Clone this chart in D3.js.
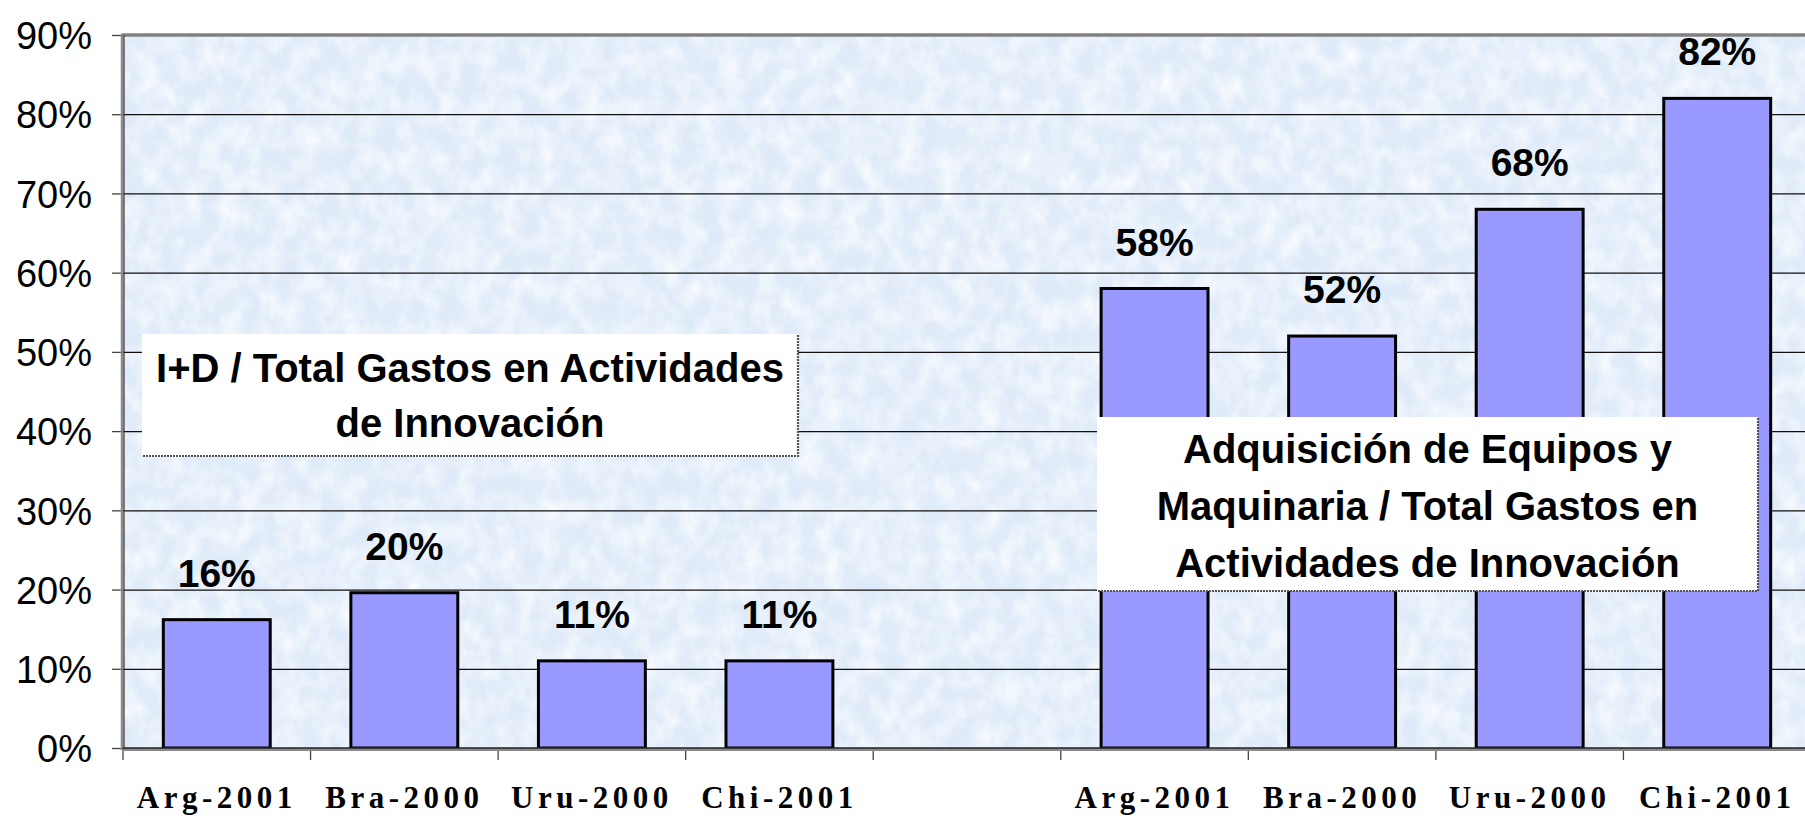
<!DOCTYPE html>
<html>
<head>
<meta charset="utf-8">
<script src="https://cdn.jsdelivr.net/npm/d3@7"></script>
<style>
  html, body { margin: 0; padding: 0; background: #ffffff; }
  svg { display: block; }
</style>
</head>
<body>
<svg id="chart" width="1805" height="816"></svg>
<script>
// ---- data ----
const categories = ["Arg-2001", "Bra-2000", "Uru-2000", "Chi-2001"];
const valuesID = [0.162, 0.196, 0.11, 0.11];          // I+D / Total
const valuesEquip = [0.58, 0.52, 0.68, 0.82];         // Equipos y Maquinaria / Total
const yTickValues = [0, 0.1, 0.2, 0.3, 0.4, 0.5, 0.6, 0.7, 0.8, 0.9];
const boxTextID = ["I+D / Total Gastos en Actividades", "de Innovación"];
const boxTextEquip = ["Adquisición de Equipos y", "Maquinaria / Total Gastos en", "Actividades de Innovación"];

// ---- layout ----
const W = 1805, H = 816;
const plotLeft = 123, plotRight = 1811, plotTop = 35, plotBottom = 748;

const svg = d3.select("#chart");

const slots = [
  ...categories.map(c => "A|" + c),
  "gap",
  ...categories.map(c => "B|" + c)
];
const bars = [
  ...categories.map((c, i) => ({ key: "A|" + c, value: valuesID[i] })),
  ...categories.map((c, i) => ({ key: "B|" + c, value: valuesEquip[i] }))
];

const pad = 0.43;
const x = d3.scaleBand().domain(slots).range([plotLeft, plotRight])
  .paddingInner(pad).paddingOuter(pad / 2);
const y = d3.scaleLinear().domain([0, 0.9]).range([plotBottom, plotTop]);
const step = x.step();

// ---- background texture ----
const defs = svg.append("defs");
const filt = defs.append("filter").attr("id", "tex")
  .attr("x", 0).attr("y", 0).attr("width", "100%").attr("height", "100%");
filt.append("feTurbulence").attr("type", "fractalNoise")
  .attr("baseFrequency", "0.05 0.04").attr("numOctaves", 3).attr("seed", 7);
filt.append("feColorMatrix").attr("type", "matrix")
  .attr("values", "0 0 0 0 1  0 0 0 0 1  0 0 0 0 1  1.5 0 0 0 -0.5");
const filt2 = defs.append("filter").attr("id", "tex2")
  .attr("x", 0).attr("y", 0).attr("width", "100%").attr("height", "100%");
filt2.append("feTurbulence").attr("type", "fractalNoise")
  .attr("baseFrequency", "0.1 0.07").attr("numOctaves", 2).attr("seed", 3);
filt2.append("feColorMatrix").attr("type", "matrix")
  .attr("values", "0 0 0 0 0.74  0 0 0 0 0.81  0 0 0 0 0.93  1.2 0 0 0 -0.6");

svg.append("rect").attr("x", plotLeft).attr("y", plotTop)
  .attr("width", W - plotLeft).attr("height", plotBottom - plotTop)
  .attr("fill", "#dfebf9");
svg.append("rect").attr("x", plotLeft).attr("y", plotTop)
  .attr("width", W - plotLeft).attr("height", plotBottom - plotTop)
  .attr("filter", "url(#tex)");
svg.append("rect").attr("x", plotLeft).attr("y", plotTop)
  .attr("width", W - plotLeft).attr("height", plotBottom - plotTop)
  .attr("filter", "url(#tex2)");

// ---- gridlines ----
const grid = svg.append("g").attr("transform", `translate(${plotLeft},0)`)
  .call(d3.axisLeft(y).tickValues(yTickValues.filter(v => v > 0 && v < 0.9))
    .tickSize(-(plotRight - plotLeft)).tickFormat(""));
grid.select(".domain").remove();
grid.selectAll("line").attr("stroke", "#111").attr("stroke-width", 1.3);

// top border
svg.append("line").attr("x1", plotLeft).attr("x2", W)
  .attr("y1", y(0.9)).attr("y2", y(0.9))
  .attr("stroke", "#808080").attr("stroke-width", 3.5);

// ---- bars ----
svg.append("g").selectAll("rect").data(bars).join("rect")
  .attr("x", d => x(d.key))
  .attr("y", d => y(d.value))
  .attr("width", x.bandwidth())
  .attr("height", d => y(0) - y(d.value))
  .attr("fill", "#9999ff")
  .attr("stroke", "#000")
  .attr("stroke-width", 3);

// value labels
svg.append("g").selectAll("text").data(bars).join("text")
  .attr("x", d => x(d.key) + x.bandwidth() / 2)
  .attr("y", d => y(d.value) - 33)
  .attr("text-anchor", "middle")
  .attr("font-family", "Liberation Sans, Arial, sans-serif")
  .attr("font-weight", "bold")
  .attr("font-size", 39)
  .attr("fill", "#000")
  .text(d => d3.format(".0%")(d.value));

// ---- y axis ----
const yAxis = svg.append("g").attr("transform", `translate(${plotLeft},0)`)
  .call(d3.axisLeft(y).tickValues(yTickValues).tickFormat(d3.format(".0%"))
    .tickSize(11).tickPadding(20));
yAxis.select(".domain").remove();
yAxis.selectAll("line").attr("stroke", "#444").attr("stroke-width", 1.3);
yAxis.selectAll("text")
  .attr("font-family", "Liberation Sans, Arial, sans-serif")
  .attr("font-size", 38).attr("fill", "#000").attr("dy", "0.36em");
svg.append("line").attr("x1", plotLeft - 1).attr("x2", plotLeft - 1)
  .attr("y1", plotTop - 1.5).attr("y2", plotBottom + 2)
  .attr("stroke", "#8a8a8a").attr("stroke-width", 2.5);
svg.append("line").attr("x1", plotLeft + 1).attr("x2", plotLeft + 1)
  .attr("y1", plotTop).attr("y2", plotBottom)
  .attr("stroke", "#333").attr("stroke-width", 1.2);

// ---- x axis ----
const xAxis = svg.append("g").attr("transform", `translate(0,${plotBottom})`)
  .call(d3.axisBottom(x).tickSize(0).tickPadding(0)
    .tickFormat(d => d === "gap" ? "" : d.split("|")[1]));
xAxis.select(".domain").remove();
xAxis.selectAll("text")
  .attr("font-family", "Liberation Serif, Times New Roman, serif")
  .attr("font-weight", "bold")
  .attr("font-size", 31)
  .attr("letter-spacing", 4.5)
  .attr("fill", "#000")
  .attr("dy", null)
  .attr("y", 60);
// boundary tick marks
const boundaries = d3.range(slots.length + 1).map(i => x(slots[0]) - step * pad / 2 + i * step);
svg.append("g").selectAll("line").data(boundaries).join("line")
  .attr("x1", d => d).attr("x2", d => d)
  .attr("y1", plotBottom).attr("y2", plotBottom + 12)
  .attr("stroke", "#444").attr("stroke-width", 1.3);
svg.append("line").attr("x1", plotLeft).attr("x2", W)
  .attr("y1", plotBottom + 1.5).attr("y2", plotBottom + 1.5)
  .attr("stroke", "#8a8a8a").attr("stroke-width", 3);
svg.append("line").attr("x1", plotLeft).attr("x2", W)
  .attr("y1", plotBottom).attr("y2", plotBottom)
  .attr("stroke", "#222").attr("stroke-width", 1.5);

// ---- annotation boxes ----
function textBox(bx, by, bw, bh, lines, centers) {
  const g = svg.append("g");
  g.append("rect").attr("x", bx).attr("y", by).attr("width", bw).attr("height", bh)
    .attr("fill", "#ffffff");
  g.append("path")
    .attr("d", `M${bx + 1},${by + bh} H${bx + bw} V${by + 1}`)
    .attr("fill", "none").attr("stroke", "#555").attr("stroke-width", 2.2)
    .attr("stroke-dasharray", "2,1");
  g.selectAll("text").data(lines).join("text")
    .attr("x", bx + bw / 2)
    .attr("y", (d, i) => centers[i])
    .attr("dominant-baseline", "central")
    .attr("text-anchor", "middle")
    .attr("font-family", "Liberation Sans, Arial, sans-serif")
    .attr("font-weight", "bold")
    .attr("font-size", 40)
    .attr("fill", "#000")
    .text(d => d);
}
textBox(142, 334, 656, 122, boxTextID, [368, 423]);
textBox(1097, 417, 661, 174, boxTextEquip, [449, 506, 563]);
</script>
</body>
</html>
